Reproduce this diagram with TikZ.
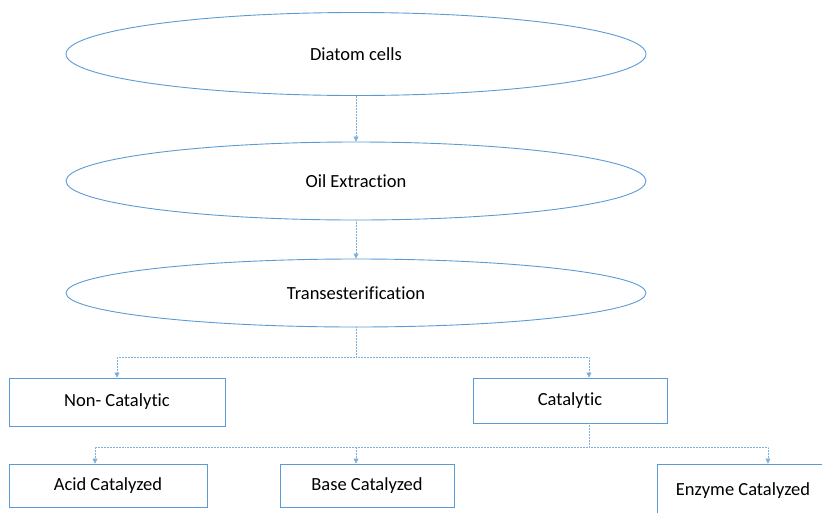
\documentclass[tikz,border=0pt]{standalone}
\usepackage{fontspec}
\setmainfont{Carlito}[Ligatures={NoCommon}]
\usetikzlibrary{shapes.geometric,arrows.meta}
\definecolor{linkblue}{RGB}{91,155,213}
\tikzset{
  stage/.style={ellipse, draw=linkblue, line width=0.9pt, minimum width=580pt, inner sep=0pt, font=\fontsize{18.5}{22}\selectfont},
  kind/.style={rectangle, draw=linkblue, line width=0.9pt, inner sep=0pt, font=\fontsize{18.5}{22}\selectfont},
  link/.style={draw=linkblue!80, line width=0.5pt, densely dotted},
  linkarrow/.style={link, -{Triangle[length=5pt,width=5pt]}}
}
\begin{document}
\begin{tikzpicture}[x=1pt,y=-1pt]
        \useasboundingbox (0,0) rectangle (822,512);
        % process stages
        \node[stage, minimum height=83pt] (diatom) at (356,54) {Diatom cells};
        \node[stage, minimum height=78pt] (oil) at (356,181) {Oil Extraction};
        \node[stage, minimum height=68pt] (trans) at (356,293) {Transesterification};
        % kinds of transesterification
        \node[kind, minimum width=216pt, minimum height=48pt] (noncat) at (117,402) {Non- Catalytic};
        \node[kind, minimum width=194pt, minimum height=45pt] (cat) at (570,400.5) {Catalytic};
        \node[kind, minimum width=198pt, minimum height=43pt] (acid) at (108,485.5) {Acid Catalyzed};
        \node[kind, minimum width=174pt, minimum height=43pt] (base) at (367,485.5) {Base Catalyzed};
        \node[kind, minimum width=172pt, minimum height=54pt] (enzyme) at (743,491) {Enzyme Catalyzed};
        \coordinate (split1) at (356,357);
        \coordinate (split2) at (589,447);
        % connectors
        \draw[linkarrow] (diatom.south) -- (oil.north);
        \draw[linkarrow] (oil.south) -- (trans.north);
        \draw[link] (trans.south) -- (split1);
        \draw[linkarrow] (split1) -| (noncat.north);
        \draw[linkarrow] (split1) -| ([xshift=19pt]cat.north);
        \draw[link] ([xshift=19pt]cat.south) -- (split2);
        \draw[linkarrow] (split2) -| ([xshift=-13pt]acid.north);
        \draw[linkarrow] (split2) -| ([xshift=-11pt]base.north);
        \draw[linkarrow] (split2) -| ([xshift=25pt]enzyme.north);
    \end{tikzpicture}
\end{document}
